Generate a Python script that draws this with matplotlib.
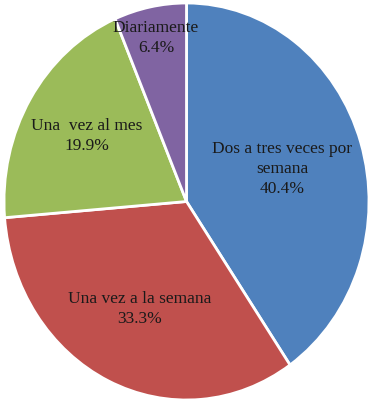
import matplotlib
matplotlib.use("Agg")
import matplotlib.pyplot as plt
import numpy as np

labels = ["Dos a tres veces por\nsemana", "Una vez a la semana", "Una  vez al mes", "Diariamente"]
values = [40.4, 33.3, 19.9, 6.4]
colors = ["#4F81BD", "#C0504D", "#9BBB59", "#8064A2"]
label_dist = [0.55, 0.60, 0.64, 0.84]

fig = plt.figure(figsize=(3.75, 4.03), dpi=100)
ax = fig.add_axes([4 / 375, 3 / 403, 365 / 375, 397 / 403])

wedges, _ = ax.pie(values, colors=colors, startangle=90, counterclock=False,
                   wedgeprops=dict(edgecolor="white", linewidth=2))
ax.set_aspect("auto")
ax.set_xlim(-1, 1)
ax.set_ylim(-1, 1)

for w, lab, v, d in zip(wedges, labels, values, label_dist):
    mid = np.deg2rad((w.theta1 + w.theta2) / 2)
    ax.text(d * np.cos(mid), d * np.sin(mid), f"{lab}\n{v:.1f}%",
            ha="center", va="center", fontsize=12.5, family="Liberation Serif",
            color="#1a1a1a", linespacing=1.3)

fig.savefig("out.png", dpi=100)
